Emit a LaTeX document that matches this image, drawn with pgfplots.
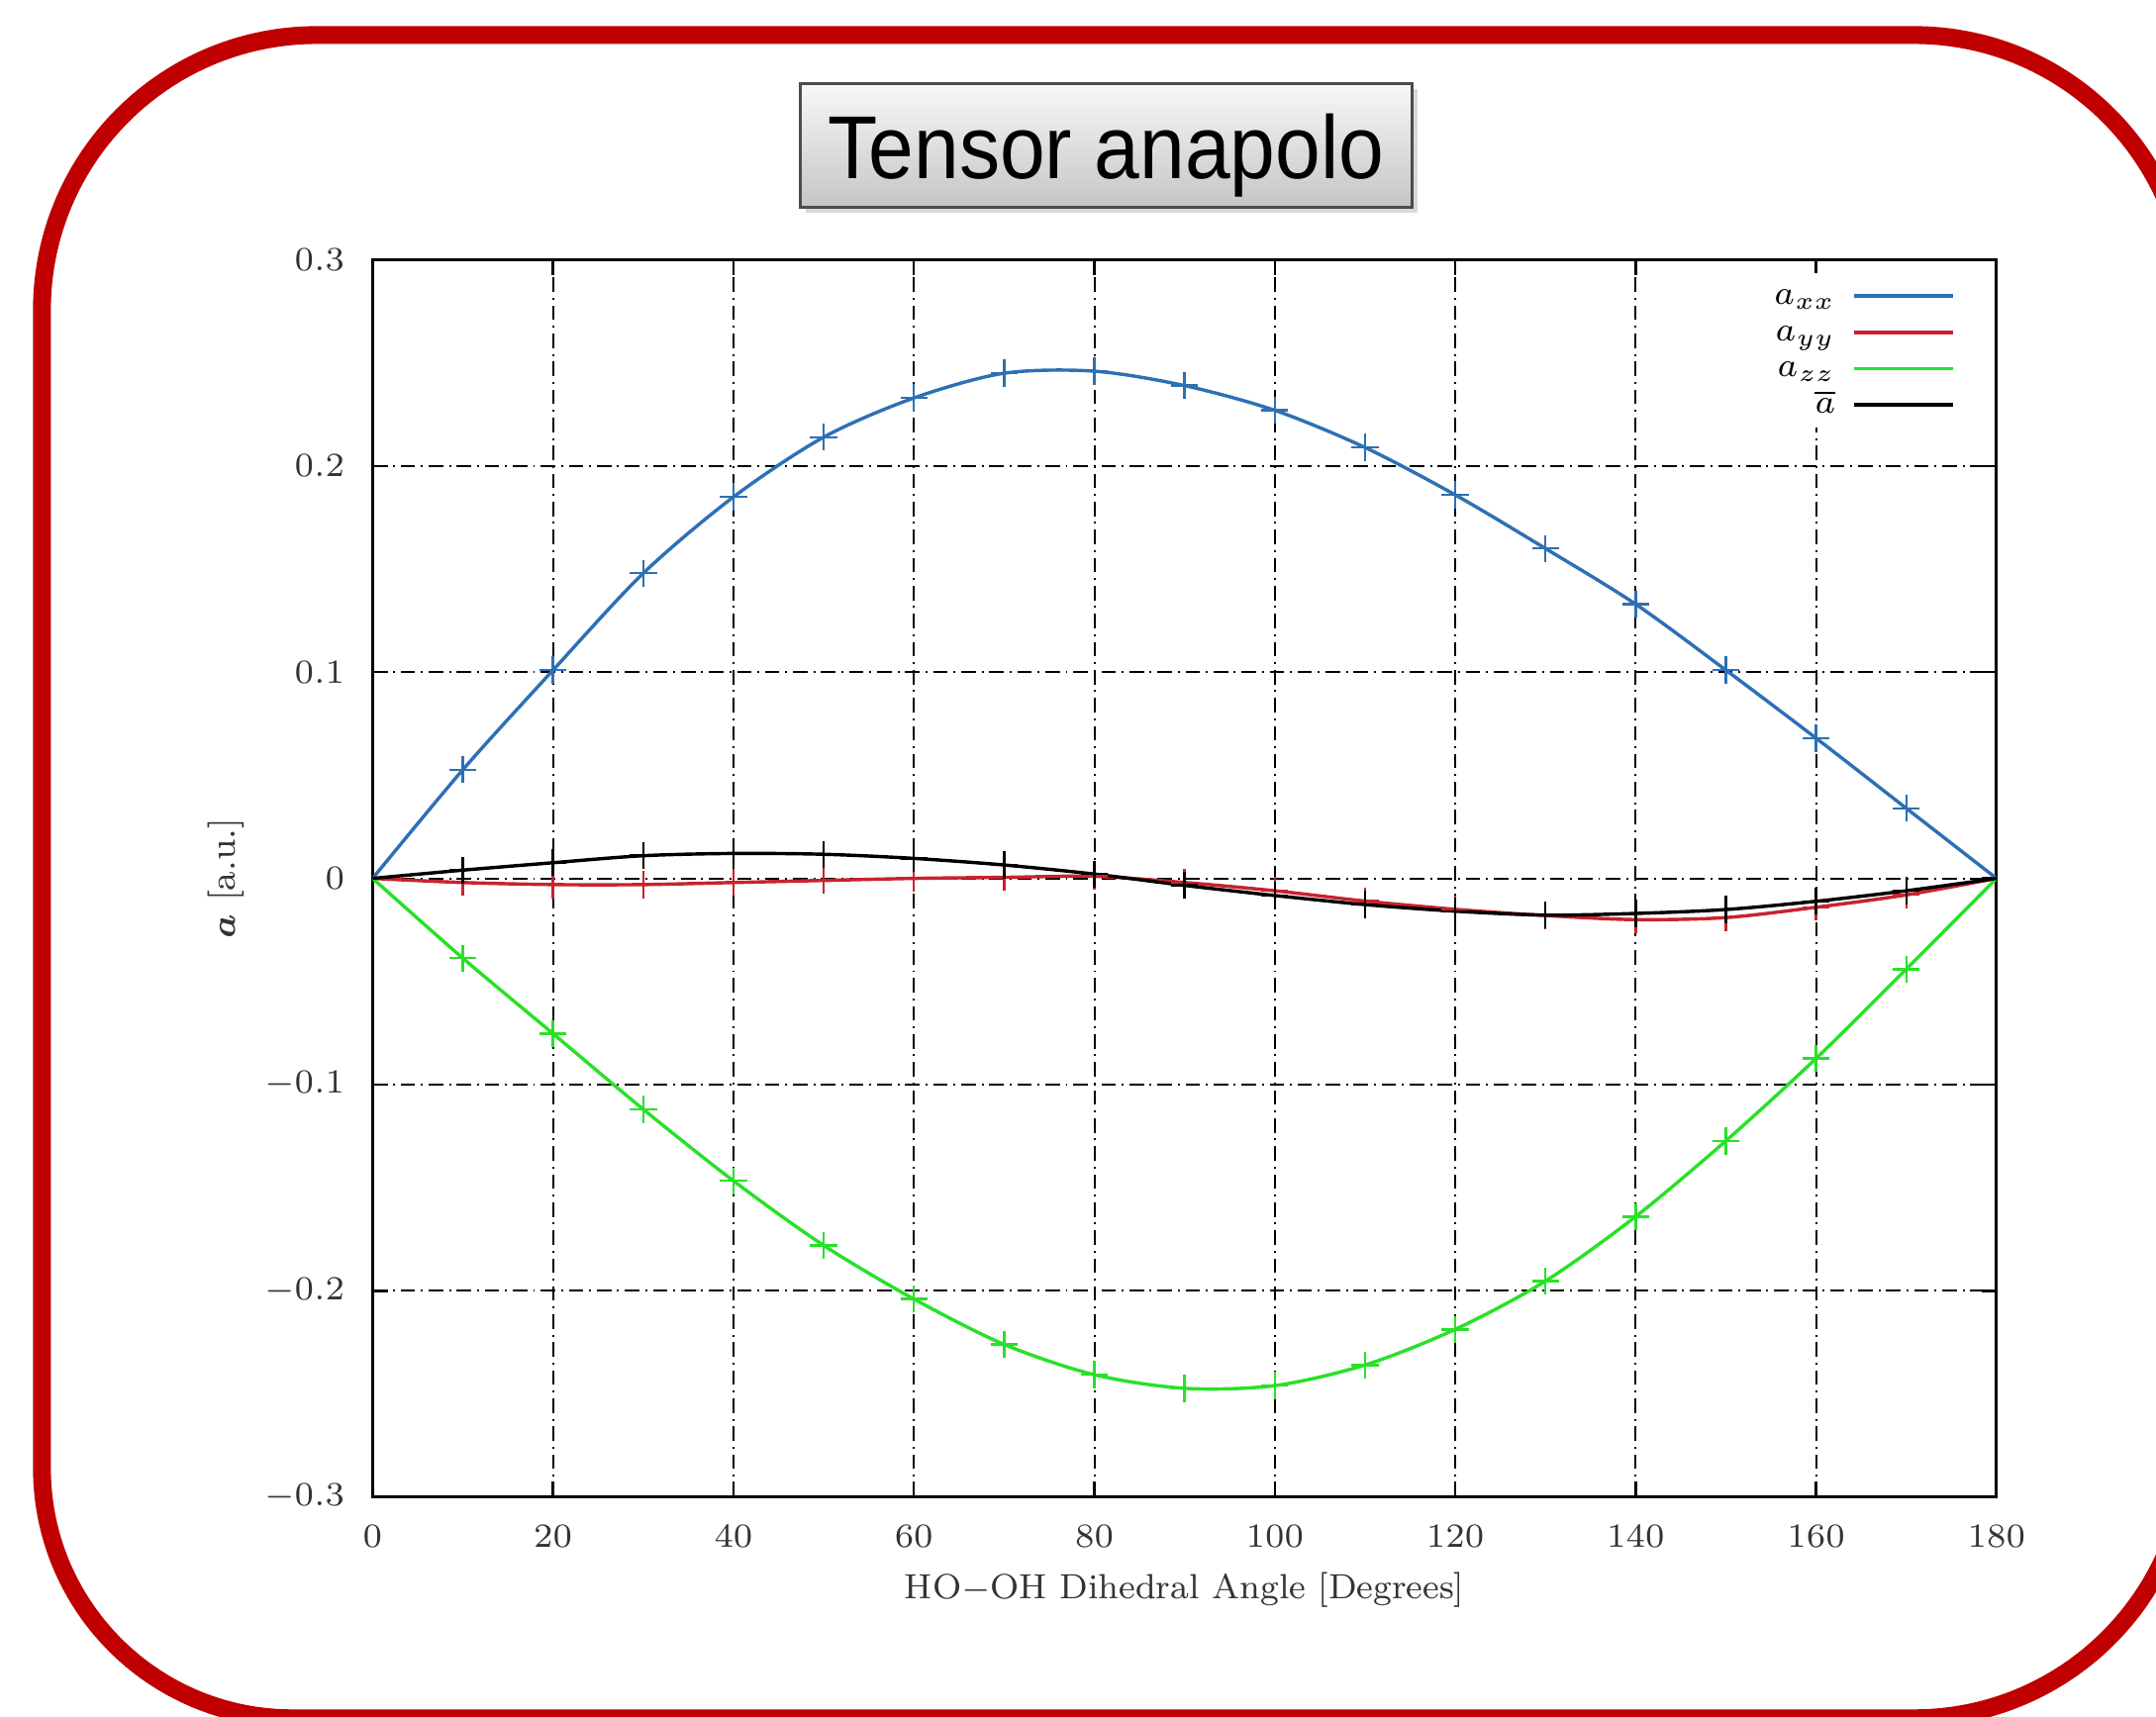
\documentclass[border=0pt]{standalone}
\usepackage{pgfplots}
\pgfplotsset{compat=1.18}
\usepackage{pgfplotstable}
\usepackage{amsmath,bm}
\usepackage{fontspec}
\newfontfamily\titlefont{Liberation Sans}
\usetikzlibrary{shadows}

\definecolor{axx}{RGB}{45,112,180}
\definecolor{ayy}{RGB}{200,35,45}
\definecolor{azz}{RGB}{40,225,40}
\definecolor{framered}{RGB}{192,0,0}

% angle, a_xx, a_yy, a_zz, mean
\pgfplotstableread{
ang   axx     ayy      azz      amean
0     0.000   0.0000   0.0000   0.0000
10    0.0527 -0.0020  -0.0387   0.0040
20    0.1010 -0.0030  -0.0753   0.0076
30    0.1480 -0.0030  -0.1120   0.0110
40    0.1850 -0.0020  -0.1467   0.0121
50    0.2140 -0.0010  -0.1780   0.0117
60    0.2330  0.0000  -0.2040   0.0097
70    0.2450  0.0005  -0.2260   0.0065
80    0.2460  0.0010  -0.2407   0.0021
90    0.2390 -0.0020  -0.2473  -0.0034
100   0.2270 -0.0060  -0.2460  -0.0083
110   0.2090 -0.0110  -0.2360  -0.0127
120   0.1860 -0.0150  -0.2187  -0.0159
130   0.1600 -0.0180  -0.1953  -0.0178
140   0.1330 -0.0200  -0.1640  -0.0170
150   0.1010 -0.0190  -0.1273  -0.0151
160   0.0680 -0.0140  -0.0873  -0.0111
170   0.0340 -0.0080  -0.0440  -0.0060
180   0.0000  0.0000   0.0000   0.0000
}\datatable

\begin{document}
\begin{tikzpicture}
\useasboundingbox (0,0) rectangle (15.68,12.49);
\clip (0,0) rectangle (15.68,12.49);

% red rounded frame
\draw[framered, line width=0.13cm] (0.305,6) [rounded corners=2cm] -- (0.305,12.235)
  -- (15.92,12.235) -- (15.92,-0.01) [rounded corners=1.82cm] -- (0.305,-0.01) -- (0.305,6);

% title box
\path[draw=black!70, line width=0.6pt, top color=gray!6, bottom color=gray!45,
  drop shadow={shadow xshift=0.04cm, shadow yshift=-0.04cm, opacity=0.3}]
  (5.82,10.98) rectangle (10.27,11.88);
\node[anchor=base, inner sep=0pt] at (8.045,11.19)
  {\titlefont\fontsize{18.5}{18}\selectfont\scalebox{0.91}[1]{Tensor anapolo}};

\begin{axis}[
  at={(2.71cm,1.60cm)}, anchor=south west,
  scale only axis, width=11.81cm, height=9cm,
  xmin=0, xmax=180, ymin=-0.3, ymax=0.3,
  xtick={0,20,...,180},
  ytick={-0.3,-0.2,-0.1,0,0.1,0.2,0.3},
  grid=major,
  major grid style={black, line width=0.4pt, dash pattern=on 3pt off 1.2pt on 0.4pt off 1.2pt},
  tick align=inside, major tick length=0.11cm,
  tick style={black, line width=0.5pt},
  axis line style={line width=0.6pt},
  ticklabel style={font=\fontsize{7.3}{8}\selectfont, text=black!80},
  xticklabel style={yshift=-0.08cm},
  yticklabel style={xshift=-0.08cm},
  xlabel={\scalebox{0.965}{HO$-$OH Dihedral Angle [Degrees]}},
  ylabel={$\bm{a}$ [a.u.]},
  label style={font=\fontsize{7.5}{9}\selectfont, text=black!80},
  xlabel style={at={(axis description cs:0.5,-0.0822)}, anchor=base},
  ylabel style={at={(axis description cs:-0.0847,0.5)}, anchor=base},
  legend style={draw=none, fill=white, at={(axis description cs:0.978,0.99)},
    anchor=north east, font=\fontsize{7.3}{8}\selectfont, inner sep=1pt,
    nodes={inner sep=0.5pt, text height=5pt, text depth=1.5pt},
    column sep=3pt},
  legend cell align=right,
  legend plot pos=right,
  legend image code/.code={\draw[#1,mark=none] (0cm,0cm) -- (0.72cm,0cm);},
  line style/.style={line width=0.7pt, smooth, mark=none},
  mark style/.style={only marks, mark=+, mark size=2.8pt, line width=0.5pt,
    restrict x to domain=5:175, forget plot},
]
\addplot[axx, line style] table[x=ang, y=axx] {\datatable};
\addlegendentry{$a_{xx}$}
\addplot[ayy, line style] table[x=ang, y=ayy] {\datatable};
\addlegendentry{$a_{yy}$}
\addplot[azz, line style] table[x=ang, y=azz] {\datatable};
\addlegendentry{$a_{zz}$}
\addplot[black, line style] table[x=ang, y=amean] {\datatable};
\addlegendentry{$\overline{a}$}

\addplot[axx, mark style] table[x=ang, y=axx] {\datatable};
\addplot[ayy, mark style] table[x=ang, y=ayy] {\datatable};
\addplot[azz, mark style] table[x=ang, y=azz] {\datatable};
\addplot[black, mark style] table[x=ang, y=amean] {\datatable};
\end{axis}
\end{tikzpicture}
\end{document}
